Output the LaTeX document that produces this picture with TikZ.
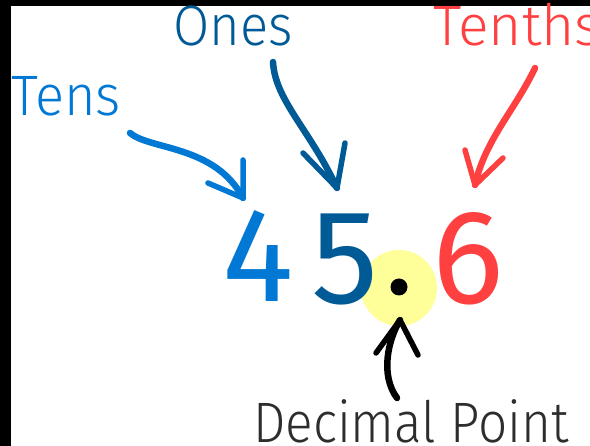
\documentclass[tikz,border=0pt]{standalone}
\usepackage{fontspec}
\setmainfont{Fira Sans}[UprightFont=* Light]
\newfontfamily\digitfont{Fira Sans}
\definecolor{tensc}{RGB}{0,120,212}
\definecolor{onesc}{RGB}{0,90,150}
\definecolor{tenthc}{RGB}{255,64,64}
\definecolor{hl}{RGB}{255,255,153}
\definecolor{decc}{RGB}{45,45,45}
\begin{document}
\begin{tikzpicture}[x=1pt,y=-1pt,
  lbl/.style={inner sep=0pt, font=\fontsize{57}{60}\selectfont, anchor=base},
  digit/.style={inner sep=0pt, font=\digitfont\fontsize{134}{140}\selectfont, anchor=base},
  brush/.style={line width=6.5pt, line cap=round, line join=round},
  barb/.style={line width=5.5pt, line cap=round, line join=round}]
\useasboundingbox (0,0) rectangle (590,446);
\fill[white] (0,0) rectangle (590,446);
\fill[black] (0,0) rectangle (11,446);
\fill[black] (0,0) rectangle (590,6);
% labels
\node[lbl,text=tensc,xscale=0.95] (tens) at (66,116) {Tens};
\node[lbl,text=onesc,xscale=0.92] (ones) at (233,46) {Ones};
\node[lbl,text=tenthc,anchor=base west] (tenths) at (433,46) {Tenths};
% highlight and dot
\node[circle,fill=hl,minimum size=76pt,inner sep=0pt] (glow) at (399,288) {};
\node[circle,fill=black,minimum size=17pt,inner sep=0pt] (dot) at (399,287) {};
% digits
\node[digit,text=tensc] (d4) at (258,302) {4};
\node[digit,text=onesc] (d5) at (345,304) {5};
\node[digit,text=tenthc] (d6) at (468,304) {6};
\node[lbl,text=decc,xscale=0.9] (dec) at (411,443) {Decimal Point};
% arrow coordinates
\coordinate (tensS) at (130,133);
\coordinate (tensT) at (243,198);
\coordinate (tensA) at (208,183);
\coordinate (tensB) at (243,160);
\coordinate (onesS) at (273,62);
\coordinate (onesT) at (337,188);
\coordinate (onesA) at (303,153);
\coordinate (onesB) at (345,143);
\coordinate (tenS) at (535,68);
\coordinate (tenT) at (475,185);
\coordinate (tenA) at (465,150);
\coordinate (tenB) at (503,158);
\coordinate (decS) at (397,398);
\coordinate (decT) at (400,320);
\coordinate (decA) at (376,353);
\coordinate (decB) at (418,355);
% arrows
\draw[brush,tensc] (tensS) .. controls (150,150) and (215,145) .. (tensT);
\draw[barb,tensc] (tensA) -- (tensT) -- (tensB);
\draw[brush,onesc] (onesS) .. controls (275,100) and (310,130) .. (onesT);
\draw[barb,onesc] (onesA) -- (onesT) -- (onesB);
\draw[brush,tenthc] (tenS) .. controls (515,110) and (485,140) .. (tenT);
\draw[barb,tenthc] (tenA) -- (tenT) -- (tenB);
\draw[brush,black] (decS) .. controls (380,375) and (388,340) .. (decT);
\draw[barb,black] (decA) -- (decT) -- (decB);
\end{tikzpicture}
\end{document}
